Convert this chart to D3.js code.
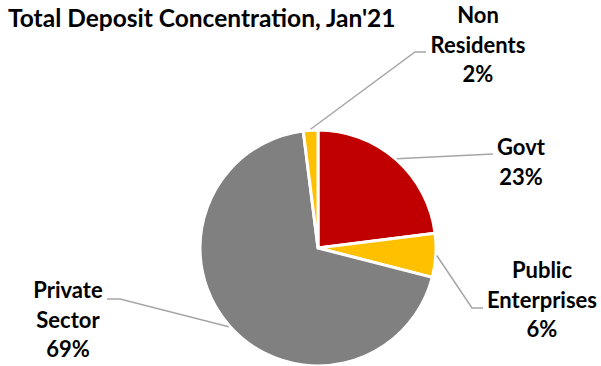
<!DOCTYPE html>
<html>
<head>
<meta charset="utf-8">
<script src="https://cdn.jsdelivr.net/npm/d3@7"></script>
<style>
  body { margin: 0; background: #fff; }
  text { font-family: Lato, "Open Sans", sans-serif; font-weight: bold; fill: #000; }
</style>
</head>
<body>
<svg id="chart" width="601" height="366"></svg>
<script>
const categories = ["Govt", "Public Enterprises", "Private Sector", "Non Residents"];
const shares = [23, 6, 69, 2];
const sliceColors = ["#C00000", "#FFC000", "#808080", "#FFC000"];
const labelLines = [["Govt"], ["Public", "Enterprises"], ["Private", "Sector"], ["Non", "Residents"]];

const width = 601;
const height = 366;
const cx = 318;
const cy = 248;
const radius = 118;
const lineHeight = 29.5;

// where each label sits and how its leader line bends
const labelLayout = {
  "Govt": { x: 521, y: 155, path: [[493, 154]] },
  "Public Enterprises": { x: 542, y: 278, path: [[472, 308], [483, 308]] },
  "Private Sector": { x: 68, y: 298, path: [[120, 299], [107, 299]] },
  "Non Residents": { x: 478, y: 23, path: [[415, 52], [426, 52]] }
};

const svg = d3.select("#chart");

svg.append("text")
  .attr("x", 8)
  .attr("y", 27)
  .style("font-size", "24.5px")
  .text("Total Deposit Concentration, Jan'21");

const data = categories.map((c, i) => ({ name: c, value: shares[i], color: sliceColors[i], lines: labelLines[i] }));

const pie = d3.pie().sort(null).value(d => d.value);
const arc = d3.arc().innerRadius(0).outerRadius(radius);
const edgeArc = d3.arc().innerRadius(radius + 1).outerRadius(radius + 1);

const g = svg.append("g").attr("transform", `translate(${cx},${cy})`);
const arcs = pie(data);

g.selectAll("path.slice")
  .data(arcs)
  .join("path")
  .attr("class", "slice")
  .attr("d", arc)
  .attr("fill", d => d.data.color)
  .attr("stroke", "#fff")
  .attr("stroke-width", 3)
  .attr("stroke-linejoin", "round");

// leader lines
svg.selectAll("polyline.leader")
  .data(arcs)
  .join("polyline")
  .attr("class", "leader")
  .attr("points", d => {
    const [sx, sy] = edgeArc.centroid(d);
    const pts = [[sx + cx, sy + cy]].concat(labelLayout[d.data.name].path);
    return pts.map(p => p.join(",")).join(" ");
  })
  .attr("fill", "none")
  .attr("stroke", "#A6A6A6")
  .attr("stroke-width", 1.5);

// labels
const labels = svg.selectAll("text.label")
  .data(arcs)
  .join("text")
  .attr("class", "label")
  .attr("text-anchor", "middle")
  .style("font-size", "22px");

labels.each(function (d) {
  const pos = labelLayout[d.data.name];
  const t = d3.select(this);
  const rows = d.data.lines.concat([d.data.value + "%"]);
  rows.forEach((r, i) => {
    t.append("tspan")
      .attr("x", pos.x)
      .attr("y", pos.y + i * lineHeight)
      .text(r);
  });
});
</script>
</body>
</html>
